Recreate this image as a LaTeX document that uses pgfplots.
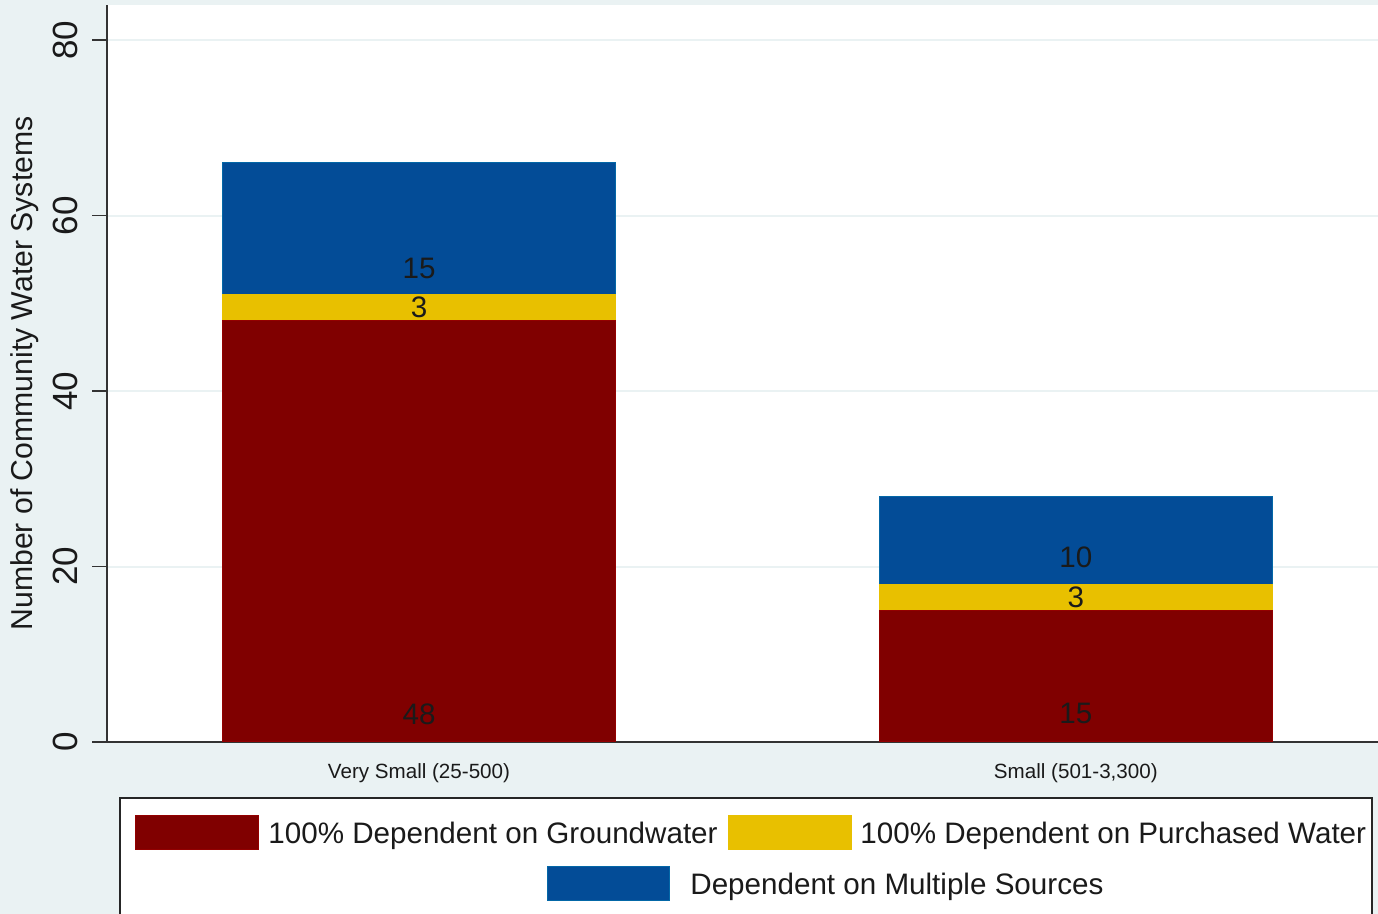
\documentclass[border=0pt]{standalone}
\usepackage{pgfplots}
\pgfplotsset{compat=1.18}
\usepackage{fontspec}
\setmainfont{Liberation Sans}
\definecolor{bgc}{HTML}{EAF2F3}
\definecolor{cred}{HTML}{800000}
\definecolor{cyel}{HTML}{E8C000}
\definecolor{cblu}{HTML}{034C97}
\definecolor{gridc}{HTML}{EAF2F3}
\definecolor{txt}{HTML}{1A1A1A}
\tikzset{barlab/.style={font=\fontsize{14.8}{18}\selectfont, text=txt}}
\pgfplotsset{common/.style={
  at={(53.5pt,86pt)}, anchor=south west,
  scale only axis, width=635.5pt, height=368.5pt,
  xmin=0.525, xmax=2.460, ymin=0, ymax=84}}
\begin{document}
\begin{tikzpicture}
\useasboundingbox (0,0) rectangle (689pt,457pt);
\clip (0,0) rectangle (689pt,457pt);
\fill[bgc] (0,0) rectangle (689pt,457pt);
\begin{axis}[
  common,
  axis background/.style={fill=white},
  ybar stacked, bar width=196.5pt,
  axis lines*=left,
  axis line style={-, draw=black!80, line width=0.8pt},
  xtick={1,2},
  xticklabels={Very Small (25-500), {Small (501-3,300)}},
  x tick style={draw=none},
  xticklabel style={font=\fontsize{10.3}{12}\selectfont, text=txt},
  ytick={0,20,40,60,80},
  tick align=outside,
  major tick length=7.5pt,
  y tick style={draw=black!80, line width=0.8pt},
  /pgf/number format/assume math mode=true,
  yticklabel style={rotate=90, anchor=south, font=\fontsize{17.5}{20}\selectfont, text=txt, yshift=3.5pt},
  ymajorgrids,
  major grid style={draw=gridc, line width=1pt},
  ylabel={Number of Community Water Systems},
  ylabel style={at={(axis description cs:-0.0645,0.5)}, anchor=center, font=\fontsize{15.1}{18}\selectfont, text=txt},
]
\addplot[fill=cred, draw=cred!85!red, line width=0.5pt] coordinates {(1,48) (2,15)};
\addplot[fill=cyel, draw=cyel, line width=0.5pt] coordinates {(1,3) (2,3)};
\addplot[fill=cblu, draw=cblu!85!cyan, line width=0.5pt] coordinates {(1,15) (2,10)};
\end{axis}
\begin{axis}[common, hide axis]
\addplot[only marks, mark=none, nodes near coords, point meta=explicit symbolic,
  every node near coord/.style={barlab, anchor=center}]
  coordinates {(1,3.2) [48] (1,49.5) [3] (1,54.0) [15]
               (2,3.2) [15] (2,16.5) [3] (2,21.1) [10]};
\end{axis}
% legend
\draw[black!85, line width=0.8pt, fill=white] (60pt,-10pt) rectangle (686pt,58pt);
\filldraw[fill=cred, draw=cred!85!red, line width=0.5pt] (67.5pt,32pt) rectangle (129pt,49pt);
\filldraw[fill=cyel, draw=cyel, line width=0.5pt] (364pt,32pt) rectangle (425.5pt,49pt);
\filldraw[fill=cblu, draw=cblu!85!cyan, line width=0.5pt] (273.5pt,6.5pt) rectangle (334.5pt,23.5pt);
\node[barlab, anchor=base west, inner sep=0pt] at (134pt,35.1pt) {100\% Dependent on Groundwater};
\node[barlab, anchor=base west, inner sep=0pt] at (430pt,35.1pt) {100\% Dependent on Purchased Water};
\node[barlab, anchor=base west, inner sep=0pt] at (345pt,9.6pt) {Dependent on Multiple Sources};
\end{tikzpicture}
\end{document}
